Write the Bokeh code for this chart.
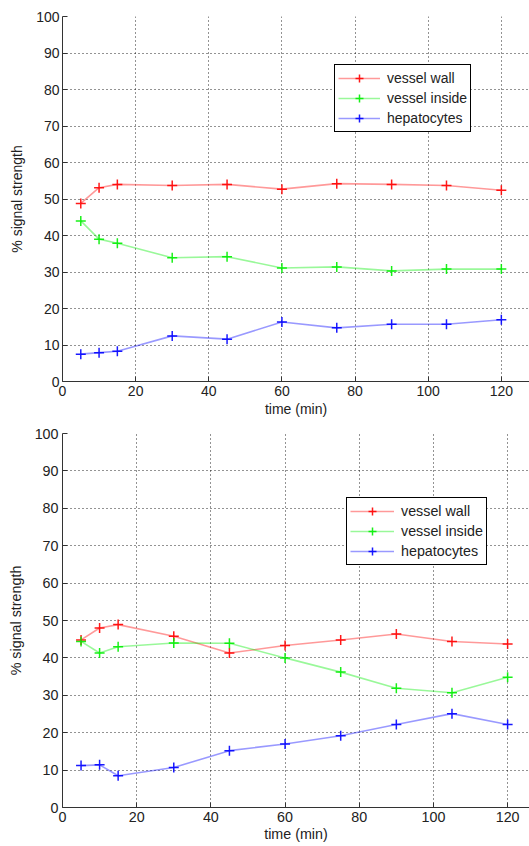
from bokeh.plotting import figure
from bokeh.layouts import column
from bokeh.models import FixedTicker, Range1d, Legend, LegendItem
from bokeh.embed import file_html
from bokeh.resources import INLINE

# ---- data ----
time_min = [5, 10, 15, 30, 45, 60, 75, 90, 105, 120]
x_ticks = [0, 20, 40, 60, 80, 100, 120]
y_ticks = [0, 10, 20, 30, 40, 50, 60, 70, 80, 90, 100]
series_names = ["vessel wall", "vessel inside", "hepatocytes"]

top_wall = [48.8, 53.1, 54.0, 53.7, 54.0, 52.7, 54.2, 54.0, 53.7, 52.4]
top_inside = [44.0, 39.0, 37.9, 33.9, 34.2, 31.1, 31.4, 30.3, 30.8, 30.8]
top_hep = [7.5, 7.9, 8.3, 12.5, 11.6, 16.3, 14.7, 15.7, 15.7, 16.9]

bot_wall = [44.8, 48.0, 48.9, 45.8, 41.3, 43.3, 44.8, 46.4, 44.4, 43.7]
bot_inside = [44.4, 41.3, 43.0, 44.0, 43.9, 40.0, 36.2, 31.9, 30.7, 34.8]
bot_hep = [11.2, 11.4, 8.5, 10.7, 15.2, 17.0, 19.2, 22.2, 25.1, 22.2]

COLORS = ["#ff0000", "#00ee00", "#0000ff"]
FONT = "Liberation Sans"
TXT = "#222222"


def make_fig(height, x_end, border_left, border_top, border_bottom,
             series, legend_loc, tick_standoff, ylab_standoff,
             xlab_standoff, xtick_standoff, fsize, glyph_w):
    p = figure(width=529, height=height,
               x_range=Range1d(0, x_end), y_range=Range1d(0, 100),
               output_backend="svg", toolbar_location=None,
               min_border_left=border_left, min_border_right=0,
               min_border_top=border_top, min_border_bottom=border_bottom,
               background_fill_color="white", border_fill_color="white")
    p.outline_line_color = None

    p.xaxis.ticker = FixedTicker(ticks=x_ticks)
    p.yaxis.ticker = FixedTicker(ticks=y_ticks)
    p.xaxis.axis_label = "time (min)"
    p.yaxis.axis_label = "% signal strength"
    for ax in (p.xaxis, p.yaxis):
        ax.axis_line_color = "#333333"
        ax.axis_line_width = 1
        ax.major_tick_in = 5
        ax.major_tick_out = 0
        ax.minor_tick_line_color = None
        ax.major_tick_line_color = "#333333"
        ax.major_label_text_font = FONT
        ax.major_label_text_font_size = fsize
        ax.major_label_text_color = TXT
        ax.axis_label_text_font = FONT
        ax.axis_label_text_font_size = fsize
        ax.axis_label_text_font_style = "normal"
        ax.axis_label_text_color = TXT
    p.yaxis.major_label_standoff = tick_standoff
    p.yaxis.axis_label_standoff = ylab_standoff
    p.xaxis.major_label_standoff = xtick_standoff
    p.xaxis.axis_label_standoff = xlab_standoff

    for g in (p.xgrid, p.ygrid):
        g.grid_line_color = "black"
        g.grid_line_alpha = 0.85
        g.grid_line_dash = "1 3"
        g.grid_line_width = 1

    items = []
    for name, vals, col in zip(series_names, series, COLORS):
        ln = p.line(time_min, vals, line_color=col, line_alpha=0.4,
                    line_width=1.6)
        sc = p.scatter(time_min, vals, marker="cross", size=10,
                       line_color=col, line_width=1.5, line_alpha=0.9)
        items.append(LegendItem(label=name, renderers=[ln, sc]))

    leg = Legend(items=items, location=legend_loc, margin=0, padding=3,
                 spacing=0, label_height=20, glyph_height=20,
                 glyph_width=glyph_w, label_standoff=7,
                 label_text_font=FONT, label_text_font_size=fsize,
                 label_text_color=TXT,
                 border_line_color="black", border_line_width=1,
                 border_line_alpha=1, background_fill_color="white",
                 background_fill_alpha=1)
    p.add_layout(leg)
    return p


p1 = make_fig(height=425, x_end=127.7, border_left=62, border_top=16,
              border_bottom=44,
              series=[top_wall, top_inside, top_hep],
              legend_loc=(272, 249), tick_standoff=3, ylab_standoff=8,
              xlab_standoff=2, xtick_standoff=4, fsize="14px", glyph_w=42)

p2 = make_fig(height=421, x_end=125.9, border_left=58, border_top=8,
              border_bottom=39,
              series=[bot_wall, bot_inside, bot_hep],
              legend_loc=(284, 242), tick_standoff=4, ylab_standoff=8,
              xlab_standoff=1, xtick_standoff=4, fsize="14.3px", glyph_w=44)

layout = column(p1, p2, spacing=0)

open("out.html", "w").write(file_html(layout, INLINE))
